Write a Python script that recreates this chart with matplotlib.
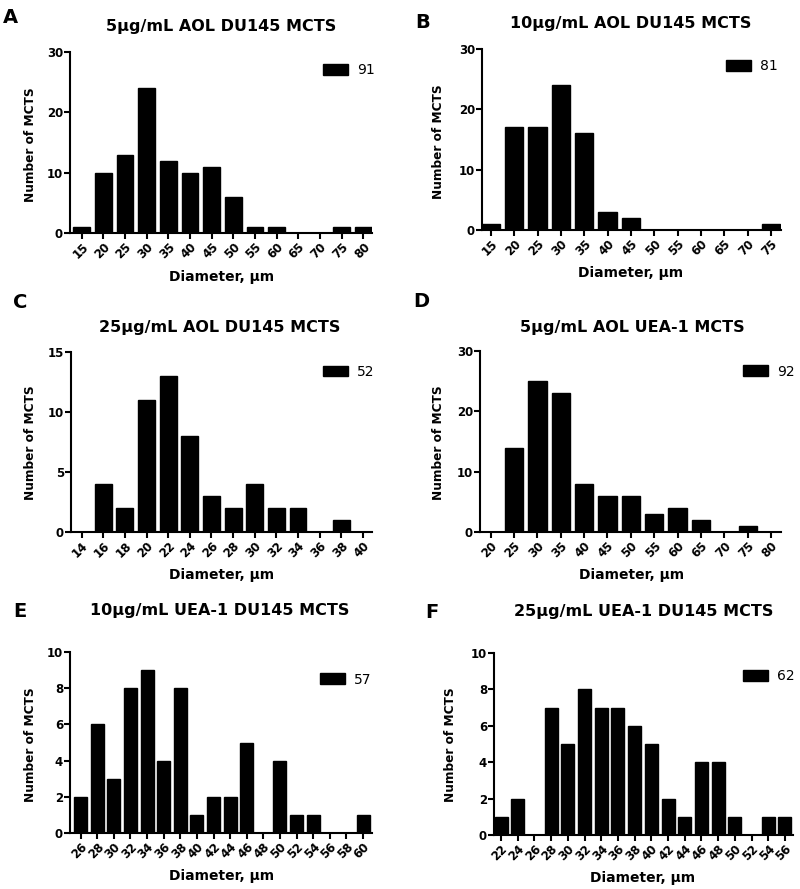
import matplotlib
matplotlib.use("Agg")
import matplotlib.pyplot as plt
import matplotlib.transforms as mtransforms
from matplotlib.patches import Patch

# the original text is wide (stretched Arial), DejaVu's wider glyphs match it best
plt.rcParams['font.family'] = ['DejaVu Sans']

# ----------------- Data: bin centre (um) and number of MCTS -----------------
a_bins = [15, 20, 25, 30, 35, 40, 45, 50, 55, 60, 65, 70, 75, 80]
a_counts = [1, 10, 13, 24, 12, 10, 11, 6, 1, 1, 0, 0, 1, 1]

b_bins = [15, 20, 25, 30, 35, 40, 45, 50, 55, 60, 65, 70, 75]
b_counts = [1, 17, 17, 24, 16, 3, 2, 0, 0, 0, 0, 0, 1]

c_bins = [14, 16, 18, 20, 22, 24, 26, 28, 30, 32, 34, 36, 38, 40]
c_counts = [0, 4, 2, 11, 13, 8, 3, 2, 4, 2, 2, 0, 1, 0]

d_bins = [20, 25, 30, 35, 40, 45, 50, 55, 60, 65, 70, 75, 80]
d_counts = [0, 14, 25, 23, 8, 6, 6, 3, 4, 2, 0, 1, 0]

e_bins = [26, 28, 30, 32, 34, 36, 38, 40, 42, 44, 46, 48, 50, 52, 54, 56, 58, 60]
e_counts = [2, 6, 3, 8, 9, 4, 8, 1, 2, 2, 5, 0, 4, 1, 1, 0, 0, 1]

f_bins = [22, 24, 26, 28, 30, 32, 34, 36, 38, 40, 42, 44, 46, 48, 50, 52, 54, 56]
f_counts = [1, 2, 0, 7, 5, 8, 7, 7, 6, 5, 2, 1, 4, 4, 1, 0, 1, 1]

titles = ["5\u03bcg/mL AOL DU145 MCTS", "10\u03bcg/mL AOL DU145 MCTS",
          "25\u03bcg/mL AOL DU145 MCTS", "5\u03bcg/mL AOL UEA-1 MCTS",
          "10\u03bcg/mL UEA-1 DU145 MCTS", "25\u00b5g/mL UEA-1 DU145 MCTS"]
totals = ["91", "81", "52", "92", "57", "62"]
letters = ["A", "B", "C", "D", "E", "F"]
y_max = [30, 30, 15, 30, 10, 10]
y_step = [10, 10, 5, 10, 2, 2]

bins = [a_bins, b_bins, c_bins, d_bins, e_bins, f_bins]
counts = [a_counts, b_counts, c_counts, d_counts, e_counts, f_counts]

# ----------------- Layout (pixels, y measured from the top) -----------------
W, H = 800, 889
axes_box = [(70, 52, 372, 233), (482, 49, 781, 230),
            (71, 352, 372, 532), (480, 351, 781, 532),
            (70, 652, 372, 833), (494, 653, 793, 835)]
x_pad = [(0.54, 0.40), (0.38, 0.43), (0.49, 0.42),
         (0.46, 0.43), (0.64, 0.54), (0.42, 0.48)]
title_xy = [(221, 31), (631, 28), (220, 332), (632, 332), (220, 615), (644, 616)]
letter_xy = [(3, 23), (415, 28), (13, 308), (413, 307), (13, 617), (425, 618)]
ylabel_xy = [(31, 145), (438, 142), (30, 443), (438, 443), (30, 745), (451, 745)]
xlabel_xy = [(222, 277), (631, 273), (222, 575), (632, 575), (222, 876), (643, 878)]
legend_xy = [(323, 70.5), (726, 66.5), (323, 371.7), (743, 371.5), (320, 679.5), (743, 676.5)]

fig = plt.figure(figsize=(W / 100, H / 100), dpi=100)
pix = mtransforms.Affine2D().scale(1 / W, -1 / H).translate(0, 1) + fig.transFigure

for i in range(6):
    l, t, r, b = axes_box[i]
    ax = fig.add_axes([l / W, 1 - b / H, (r - l) / W, (b - t) / H])
    n = len(bins[i])
    pos = list(range(n))
    ax.bar(pos, counts[i], width=0.78, color='black', edgecolor='black')

    ax.set_xlim(-x_pad[i][0], n - 1 + x_pad[i][1])
    ax.set_ylim(0, y_max[i])
    ax.set_xticks(pos)
    ax.set_xticklabels([str(v) for v in bins[i]], rotation=45, ha='right',
                       rotation_mode='anchor', fontweight='bold')
    ax.set_yticks(range(0, y_max[i] + 1, y_step[i]))
    plt.setp(ax.get_yticklabels(), fontweight='bold')
    ax.tick_params(direction='out', length=4, width=1.5, labelsize=8.5, pad=1)

    for side in ['top', 'right']:
        ax.spines[side].set_visible(False)
    for side in ['left', 'bottom']:
        ax.spines[side].set_linewidth(1.5)

    ax.set_xlabel("Diameter, \u00b5m", fontsize=10, fontweight='bold')
    ax.xaxis.set_label_coords(*xlabel_xy[i], transform=pix)
    ax.xaxis.label.set_va('center')
    ax.set_ylabel("Number of MCTS", fontsize=8.7, fontweight='bold')
    ax.yaxis.set_label_coords(*ylabel_xy[i], transform=pix)
    ax.yaxis.label.set_va('center')

    ax.legend(handles=[Patch(facecolor='black', edgecolor='black', label=totals[i])],
              loc='center left', bbox_to_anchor=legend_xy[i], bbox_transform=pix,
              frameon=False, fontsize=10, handlelength=1.8, handleheight=0.8,
              handletextpad=0.65, borderpad=0, borderaxespad=0)

    fig.text(*title_xy[i], titles[i], transform=pix, ha='center', va='baseline',
             fontsize=11.5, fontweight='bold')
    fig.text(*letter_xy[i], letters[i], transform=pix, ha='left', va='baseline',
             fontsize=14, fontweight='bold')

fig.savefig("out.png", dpi=100)
